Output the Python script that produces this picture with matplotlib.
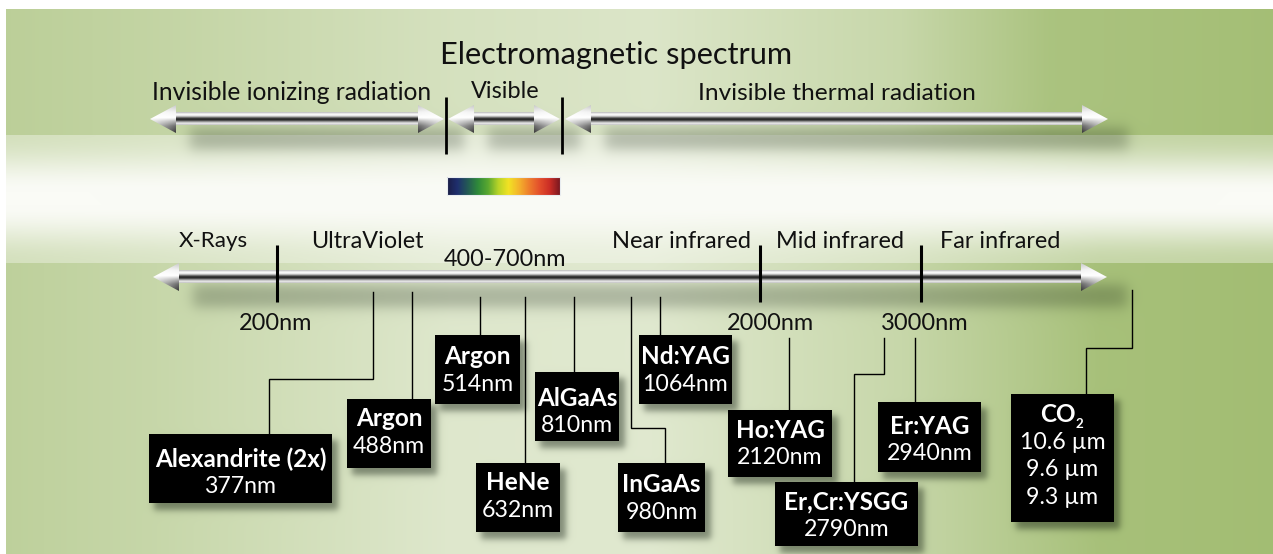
import numpy as np
import matplotlib
matplotlib.use("Agg")
import matplotlib.pyplot as plt
from matplotlib.patches import Polygon, Rectangle
from matplotlib.colors import LinearSegmentedColormap

FONT = ["Lato", "DejaVu Sans"]
plt.rcParams["font.family"] = FONT

# ---------------- data ----------------
title = "Electromagnetic spectrum"
region_labels = ["Invisible ionizing radiation", "Visible", "Invisible thermal radiation"]
band_labels = ["X-Rays", "UltraViolet", "400-700nm", "Near infrared", "Mid infrared", "Far infrared"]
tick_labels = ["200nm", "2000nm", "3000nm"]
laser_names = ["Alexandrite (2x)", "Argon", "Argon", "HeNe", "AlGaAs", "InGaAs",
               "Nd:YAG", "Ho:YAG", "Er,Cr:YSGG", "Er:YAG", "CO"]
laser_wavelengths = [["377nm"], ["488nm"], ["514nm"], ["632nm"], ["810nm"], ["980nm"],
                     ["1064nm"], ["2120nm"], ["2790nm"], ["2940nm"],
                     ["10.6 µm", "9.6 µm", "9.3 µm"]]
co2_subscript = "2"
spectrum_colors = ["#1b1d45", "#1f2f6e", "#245a55", "#2f8a3a", "#5aa830", "#b8d428",
                   "#f2e224", "#f4b42c", "#ee7e2c", "#e4502c", "#cc2e26", "#7a1820"]

# ---------------- layout (pixel units) ----------------
W, H = 1273, 554
title_pos, title_w = (616, 55), 333
region_pos = [(292, 93), (505, 92), (837, 94)]
region_w = [265, 65, 262]
top_rods = [(150, 444), (448, 560), (565, 1108)]
top_rod_y = 119
dividers_x, dividers_y = [446, 562], (97, 154)
spectrum_box = (447, 560, 177, 195)
main_rod, main_rod_y = (153, 1107), 277
ticks_x, ticks_y = [277, 760, 921], (245, 302)
band_pos = [(213, 241), (367, 241), (505, 260), (681, 241), (840, 241), (1000, 241)]
band_w = [65, 106, 115, 132, 121, 114]
tick_label_pos = [(276, 323), (770, 323), (925, 323)]
tick_label_w = [69, 82, 82]
pointer_paths = [
    [(373, 292), (373, 379), (269, 379), (269, 434)],
    [(412, 292), (412, 399)],
    [(480, 297), (480, 335)],
    [(525, 297), (525, 463)],
    [(574, 297), (574, 372)],
    [(631, 297), (631, 428), (665, 428), (665, 463)],
    [(660, 297), (660, 335)],
    [(789, 338), (789, 410)],
    [(884, 338), (884, 374), (854, 374), (854, 482)],
    [(915, 338), (915, 402)],
    [(1132, 290), (1132, 348), (1086, 348), (1086, 394)],
]
boxes = [(149, 434, 332, 503), (347, 399, 431, 468), (435, 335, 520, 404),
         (476, 463, 560, 532), (535, 372, 619, 441), (618, 463, 705, 532),
         (639, 335, 732, 404), (728, 410, 832, 477), (775, 482, 918, 546),
         (878, 402, 981, 472), (1011, 394, 1114, 522)]
box_text_y = [459, 419, 357, 483, 398, 485, 357, 430, 502, 426, 415]
line_gap = 27.5
label_scale = 1.06

# ---------------- figure ----------------
fig = plt.figure(figsize=(W / 100, H / 100), dpi=100)
ax = fig.add_axes([0, 0, 1, 1])
ax.set_xlim(0, W)
ax.set_ylim(H, 0)
ax.axis("off")
renderer = fig.canvas.get_renderer()


def fit_size(s, target, weight="normal"):
    t = ax.text(0, 0, s, fontsize=10, fontweight=weight)
    w = t.get_window_extent(renderer=renderer).width
    t.remove()
    return 10 * target / w


# ---------------- background ----------------
X, Y = np.meshgrid(np.arange(W) + 0.5, np.arange(H) + 0.5)
xs = np.arange(W) + 0.5
yy = np.arange(H) + 0.5
green = np.array([158, 186, 108]) / 255.0
white = np.array([250, 251, 246]) / 255.0
hp_top = np.interp(xs, [0, 150, 450, 650, 900, 1050, 1273], [0.68, 0.6, 0.40, 0.33, 0.55, 0.86, 0.93])
hp_low = np.interp(xs, [0, 150, 450, 650, 900, 1100, 1273], [0.66, 0.56, 0.30, 0.28, 0.55, 0.90, 0.95])


def sstep(a, b, v):
    t = np.clip((v - a) / (b - a), 0, 1)
    return t * t * (3 - 2 * t)


v_band = 0.62 * (1 - sstep(135, 192, yy)) + 0.62 * sstep(205, 263, yy)
A = np.where(Y < 135, hp_top[None, :],
             np.where(Y < 263, v_band[:, None] * hp_low[None, :], hp_low[None, :]))
bg = white[None, None, :] + A[:, :, None] * (green - white)[None, None, :]


def soft_rect(x0, x1, y0, y1, s):
    return 0.25 * (np.tanh((X - x0) / s) - np.tanh((X - x1) / s)) * \
        (np.tanh((Y - y0) / s) - np.tanh((Y - y1) / s))


shadow = np.zeros((H, W))
for x0, x1 in top_rods:
    shadow += 0.26 * soft_rect(x0 + 40, x1 + 20, top_rod_y + 9, top_rod_y + 30, 8)
shadow += 0.26 * soft_rect(main_rod[0] + 40, main_rod[1] + 20, main_rod_y + 8, main_rod_y + 30, 8)
for (x0, y0, x1, y1) in boxes:
    shadow += 0.45 * soft_rect(x0 + 5, x1 + 6, y0 + 6, y1 + 7, 4)
shadow = np.clip(shadow, 0, 0.6)
bg = bg * (1 - shadow[:, :, None] * np.array([0.95, 0.9, 0.95])[None, None, :])
bg[(X < 6) | (Y < 9)] = 1.0
ax.imshow(bg, extent=(0, W, H, 0), aspect="auto", interpolation="bilinear", zorder=0)

# ---------------- metallic rods ----------------
rod_profile = np.array([0.78, 0.92, 0.98, 0.88, 0.62, 0.32, 0.14, 0.22, 0.5, 0.76, 0.9, 0.8])


def draw_cone(tip, base, yc, ch):
    n = 80
    cx = np.linspace(min(tip, base), max(tip, base), n)
    cy = np.linspace(yc - ch, yc + ch, n)
    XX, YY = np.meshgrid(cx, cy)
    t = np.abs(XX - tip) / abs(base - tip)
    vy = np.interp(YY, yc + ch * np.array([-1, -0.5, -0.1, 0.15, 0.5, 1.0]),
                   [0.78, 0.95, 1.0, 0.72, 0.42, 0.22])
    val = 1 - (1 - vy) * (0.25 + 0.75 * t)
    im = ax.imshow(val, cmap="gray", vmin=0, vmax=1, extent=(cx[0], cx[-1], cy[-1], cy[0]),
                   aspect="auto", interpolation="bilinear", zorder=4)
    poly = Polygon([(tip, yc), (base, yc - ch), (base, yc + ch)], closed=True,
                   facecolor="none", edgecolor="none")
    ax.add_patch(poly)
    im.set_clip_path(poly)


def draw_rod(x0, x1, yc, half=6.5, cone_len=26, cone_half=14):
    sx0, sx1 = x0 + cone_len, x1 - cone_len
    img = np.tile(rod_profile[:, None], (1, 2))
    ax.imshow(img, cmap="gray", vmin=0, vmax=1, extent=(sx0 - 1, sx1 + 1, yc + half, yc - half),
              aspect="auto", interpolation="bilinear", zorder=3)
    draw_cone(x0, sx0, yc, cone_half)
    draw_cone(x1, sx1, yc, cone_half)


for x0, x1 in top_rods:
    draw_rod(x0, x1, top_rod_y)
draw_rod(main_rod[0], main_rod[1], main_rod_y)

# dividers & ticks
for x in dividers_x:
    ax.plot([x, x], dividers_y, color="black", lw=2.0, solid_capstyle="butt", zorder=5)
for x in ticks_x:
    ax.plot([x, x], ticks_y, color="black", lw=2.2, solid_capstyle="butt", zorder=5)

# spectrum bar
cmap = LinearSegmentedColormap.from_list("vis", spectrum_colors)
sx0, sx1, sy0, sy1 = spectrum_box
ax.imshow(np.linspace(0, 1, 256)[None, :], cmap=cmap, extent=(sx0, sx1, sy1, sy0),
          aspect="auto", interpolation="bilinear", zorder=3)
ax.add_patch(Rectangle((sx0, sy0), sx1 - sx0, sy1 - sy0, fill=False, ec="#e8ecf0", lw=0.8, zorder=4))

# ---------------- texts ----------------
ax.text(*title_pos, title, fontsize=label_scale * fit_size(title, title_w), ha="center",
        va="center", color="#111111", zorder=6)
for s, p, w in zip(region_labels, region_pos, region_w):
    ax.text(*p, s, fontsize=label_scale * fit_size(s, w), ha="center", va="center",
            color="#111111", zorder=6)
for s, p, w in zip(band_labels, band_pos, band_w):
    ax.text(*p, s, fontsize=label_scale * fit_size(s, w), ha="center", va="center",
            color="#111111", zorder=6)
for s, p, w in zip(tick_labels, tick_label_pos, tick_label_w):
    ax.text(*p, s, fontsize=label_scale * fit_size(s, w), ha="center", va="center",
            color="#111111", zorder=6)

# ---------------- pointer lines & laser boxes ----------------
for path in pointer_paths:
    px, py = zip(*path)
    ax.plot(px, py, color="black", lw=1.0, zorder=5, solid_joinstyle="miter")

name_fs = fit_size("Alexandrite (2x)", 172, "bold")
wl_fs = fit_size("488nm", 72)
for name, wls, (x0, y0, x1, y1), ty in zip(laser_names, laser_wavelengths, boxes, box_text_y):
    ax.add_patch(Rectangle((x0, y0), x1 - x0, y1 - y0, facecolor="black", edgecolor="none", zorder=6))
    cx = (x0 + x1) / 2
    if name == "CO":
        ax.text(cx - 5, ty, name, fontsize=name_fs, fontweight="bold", color="white",
                ha="center", va="center", zorder=7)
        ax.text(cx + 13, ty + 9, co2_subscript, fontsize=name_fs * 0.55, fontweight="bold",
                color="white", ha="left", va="center", zorder=7)
    else:
        ax.text(cx, ty, name, fontsize=name_fs, fontweight="bold", color="white",
                ha="center", va="center", zorder=7)
    for i, wl in enumerate(wls):
        ax.text(cx, ty + line_gap * (i + 1), wl, fontsize=wl_fs, color="white",
                ha="center", va="center", zorder=7)

ax.set_xlim(0, W)
ax.set_ylim(H, 0)
fig.savefig("out.png", dpi=100)
